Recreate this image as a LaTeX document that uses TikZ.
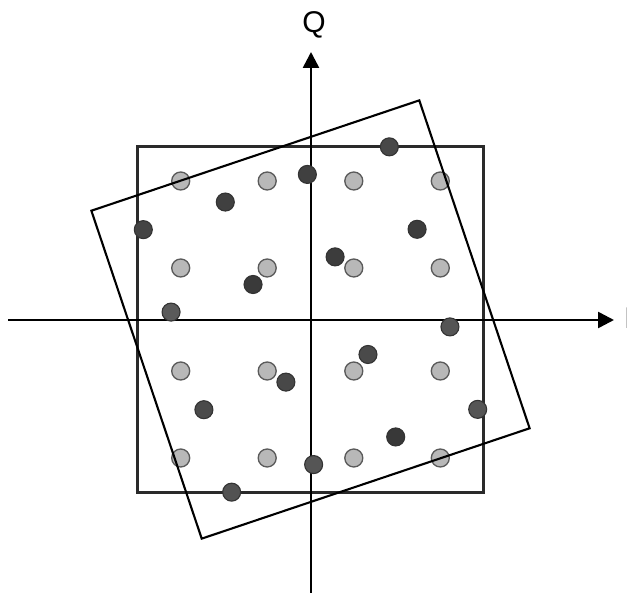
\documentclass[tikz,border=0pt]{standalone}
\usepackage{fontspec}
\setmainfont{Liberation Sans}
\usetikzlibrary{arrows.meta}
\definecolor{lightdot}{HTML}{B8B8B8}
\definecolor{lightrim}{HTML}{5A5A5A}
\definecolor{sqcol}{HTML}{2A2A2A}
\tikzset{
  axisline/.style={line width=2.6pt, -{Triangle[length=16pt,width=16pt]}},
  idealdot/.style={circle, inner sep=0pt, minimum size=18pt, fill=lightdot, draw=lightrim, line width=1.3pt},
  rxdot/.style={circle, inner sep=0pt, minimum size=18pt, fill=#1, draw=black!80, line width=1.1pt},
  boxline/.style={draw=sqcol, line width=2.3pt},
  rotline/.style={draw=black, line width=2.1pt, line join=miter},
  axlabel/.style={font=\fontsize{30}{30}\selectfont, inner sep=0pt}
}
\begin{document}
\begin{tikzpicture}[x=1pt,y=-1pt]
\useasboundingbox[fill=white] (0,0) rectangle (627,593);
% ideal square
\draw[boxline] (137.5,146.5) rectangle (483.5,492.5);
% axes
\coordinate (ileft) at (8,320);
\coordinate (iright) at (614,320);
\coordinate (qbot) at (311,593);
\coordinate (qtop) at (311,52);
\draw[axisline] (ileft) -- (iright);
\draw[axisline] (qbot) -- (qtop);
\node[axlabel, anchor=base] (qlab) at (314,33) {Q};
\node[axlabel, anchor=base west] (ilab) at (624,329) {I};
% ideal constellation
\begin{scope}[shift={(310.5,319.5)}]
  \foreach \xx [count=\i] in {-129.8,-43.3,43.3,129.8}{
    \foreach \yy [count=\j] in {-138.5,-51.5,51.5,138.5}{
      \node[idealdot] (l\i\j) at (\xx,\yy) {};
    }
  }
\end{scope}
% rotated square
\begin{scope}[shift={(310.5,319.5)}, rotate=18.6]
  \coordinate (r1) at (-173,-173);
  \coordinate (r2) at (173,-173);
  \coordinate (r3) at (173,173);
  \coordinate (r4) at (-173,173);
  \draw[rotline] (r1) -- (r2) -- (r3) -- (r4) -- cycle;
  % received (rotated) constellation
  \foreach \xx/\yy/\c/\nm in {
    -129.8/-138.5/444444/d11, -43.3/-138.5/404040/d21, 43.3/-138.5/404040/d31, 129.8/-138.5/484848/d41,
    -129.8/-51.5/5A5A5A/d12, -43.3/-51.5/3A3A3A/d22, 43.3/-51.5/3C3C3C/d32, 129.8/-51.5/3C3C3C/d42,
    -129.8/51.5/4A4A4A/d13, -43.3/51.5/484848/d23, 43.3/51.5/4A4A4A/d33, 129.8/51.5/555555/d43,
    -129.8/138.5/525252/d14, -43.3/138.5/555555/d24, 43.3/138.5/383838/d34, 129.8/138.5/555555/d44}{
    \definecolor{dc}{HTML}{\c}
    \node[rxdot=dc] (\nm) at (\xx,\yy) {};
  }
\end{scope}
\end{tikzpicture}
\end{document}
